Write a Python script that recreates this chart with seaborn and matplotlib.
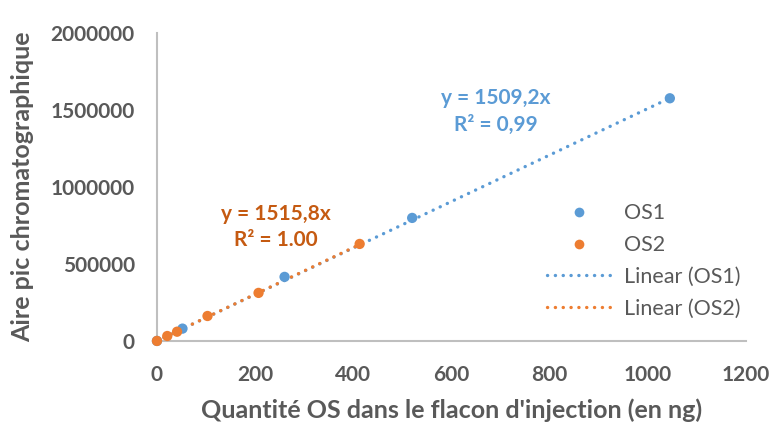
import numpy as np
import pandas as pd
import matplotlib
matplotlib.use("Agg")
import matplotlib.pyplot as plt
import seaborn as sns
from matplotlib.lines import Line2D

# Calibration data: injected quantity (ng) vs chromatographic peak area
os1_qty = [0, 52, 260, 520, 1045]
os1_area = [0, 80000, 416000, 799000, 1576000]
os2_qty = [0, 21, 41, 103, 207, 413]
os2_area = [0, 32000, 60000, 162000, 312000, 630000]

# Trendline slopes (linear fit through the origin)
slope_os1 = 1509.2
slope_os2 = 1515.8
r2_os1 = "0,99"
r2_os2 = "1.00"

x_ticks = [0, 200, 400, 600, 800, 1000, 1200]
y_ticks = [0, 500000, 1000000, 1500000, 2000000]

blue = "#5B9BD5"
orange = "#ED7D31"
orange_text = "#C55A11"
grey_text = "#595959"

sns.set_theme(style="white")
plt.rcParams["font.family"] = ["Lato", "DejaVu Sans"]

df = pd.concat([
    pd.DataFrame({"qty": os1_qty, "area": os1_area, "serie": "OS1"}),
    pd.DataFrame({"qty": os2_qty, "area": os2_area, "serie": "OS2"}),
])

fig = plt.figure(figsize=(7.77, 4.23), dpi=100)
ax = fig.add_axes([0.202, 0.194, 0.758, 0.728])

dotted = (0, (0.05, 2.3))

# Trendlines
x1 = np.array([0, max(os1_qty)])
x2 = np.array([0, max(os2_qty)])
ax.plot(x1, slope_os1 * x1, color=blue, lw=2.4, ls=dotted,
        dash_capstyle="round", zorder=2)
ax.plot(x2, slope_os2 * x2, color=orange, lw=2.4, ls=dotted,
        dash_capstyle="round", zorder=2)

sns.scatterplot(data=df, x="qty", y="area", hue="serie",
                palette={"OS1": blue, "OS2": orange}, s=55,
                edgecolor="none", ax=ax, legend=False, zorder=3, clip_on=False)

ax.set_xlim(0, 1200)
ax.set_ylim(0, 2000000)
ax.set_xticks(x_ticks)
ax.set_yticks(y_ticks)
ax.set_xticklabels([str(v) for v in x_ticks])
ax.set_yticklabels([str(v) for v in y_ticks])
ax.tick_params(axis="both", length=0, labelsize=15, labelcolor=grey_text)
ax.tick_params(axis="x", pad=17)
ax.tick_params(axis="y", pad=16)
for lab in ax.get_xticklabels() + ax.get_yticklabels():
    lab.set_fontweight("bold")

for side in ["top", "right"]:
    ax.spines[side].set_visible(False)
for side in ["left", "bottom"]:
    ax.spines[side].set_color("#BFBFBF")
    ax.spines[side].set_linewidth(1.5)

ax.set_xlabel("Quantité OS dans le flacon d'injection (en ng)", fontsize=18,
              fontweight="bold", color=grey_text, labelpad=10)
ax.set_ylabel("Aire pic chromatographique", fontsize=18,
              fontweight="bold", color=grey_text, labelpad=12)

# Trendline equations
ax.text(690, 1490000, f"y = {str(slope_os1).replace('.', ',')}x\nR² = {r2_os1}",
        color=blue, fontsize=15, fontweight="bold", ha="center", va="center",
        linespacing=1.4)
ax.text(242, 740000, f"y = {str(slope_os2).replace('.', ',')}x\nR² = {r2_os2}",
        color=orange_text, fontsize=15, fontweight="bold", ha="center",
        va="center", linespacing=1.4)

handles = [
    Line2D([], [], ls="none", marker="o", ms=7, color=blue, mec="none"),
    Line2D([], [], ls="none", marker="o", ms=7, color=orange, mec="none"),
    Line2D([], [], color=blue, lw=2.4, ls=dotted, dash_capstyle="round"),
    Line2D([], [], color=orange, lw=2.4, ls=dotted, dash_capstyle="round"),
]
labels = ["OS1", "OS2", "Linear (OS1)", "Linear (OS2)"]
leg = ax.legend(handles, labels, loc="upper left", bbox_to_anchor=(0.647, 0.475),
                frameon=False, fontsize=15.5, handlelength=3.0, handletextpad=0.6,
                labelspacing=0.55, borderaxespad=0)
for t in leg.get_texts():
    t.set_color(grey_text)

fig.savefig("out.png", dpi=100)
